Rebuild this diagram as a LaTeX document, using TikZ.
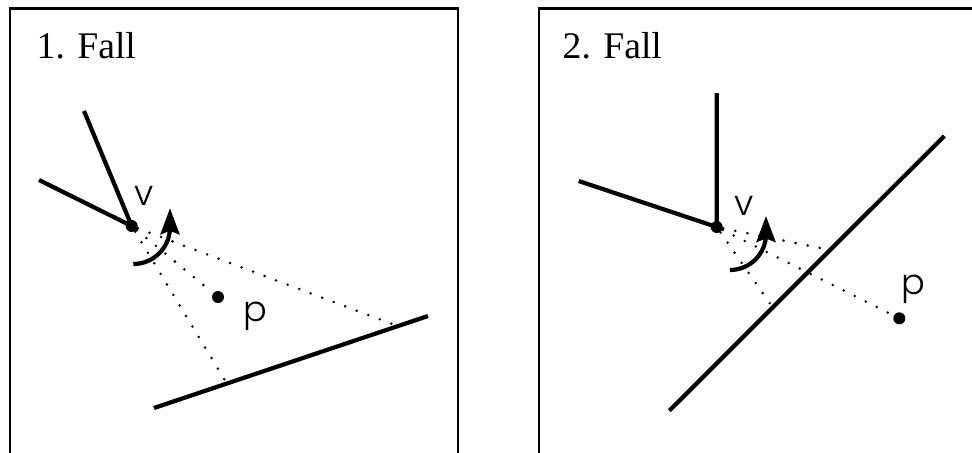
\documentclass[tikz,border=0pt]{standalone}
\usepackage{fontspec}
\setmainfont{Liberation Serif}
\newfontfamily\geofont{Poppins Light}
\usetikzlibrary{arrows.meta,positioning}

\begin{document}
\begin{tikzpicture}[
  frame/.style={line width=0.85pt},
  seg/.style={line width=1.2pt},
  sight/.style={line width=0.8pt,line cap=round,dash pattern=on 0pt off 3.5pt},
  turn/.style={line width=1.2pt,-{Stealth[length=0.26cm,width=0.19cm,inset=0.035cm]}},
  pt/.style={circle,fill,inner sep=0pt,minimum size=0.12cm},
  lbl/.style={font=\geofont\fontsize{10}{12}\selectfont,inner sep=0pt,anchor=base west},
  title/.style={font=\fontsize{10.7}{12}\selectfont,inner sep=0pt,anchor=base west}]
  \useasboundingbox (0,0) rectangle (9.72,4.52);
  % Frames
  \draw[frame] (0.10,-0.1) -- (0.10,4.44) -- (4.58,4.44) -- (4.58,-0.1);
  \draw[frame] (5.39,-0.1) -- (5.39,4.44) -- (9.9,4.44);
  \node[title] (fall1) at (0.36,3.94) {1. Fall};
  \node[title] (fall2) at (5.62,3.94) {2. Fall};

  % 1. Fall
  \node[pt] (v1) at (1.317,2.26) {};
  \node[pt] (p1) at (2.18,1.55) {};
  \coordinate (a1) at (0.39,2.72);
  \coordinate (b1) at (0.84,3.41);
  \coordinate (w1s) at (1.54,0.44);
  \coordinate (w1e) at (4.28,1.36);
  \draw[seg] (a1) -- (v1.center) -- (b1);
  \draw[seg] (w1s) -- coordinate[pos=0.266] (h1a) coordinate[pos=0.89] (h1b) (w1e);
  \draw[sight] (v1) -- (h1a);
  \draw[sight] (v1) -- (p1);
  \draw[sight] (v1) -- (h1b);
  \coordinate (t1) at (1.333,1.88);
  \draw[turn] (t1) arc[start angle=270,end angle=360,radius=0.367] -- ++(0,0.19);
  \node[lbl] (v1lbl) at (1.34,2.47) {v};
  \node[lbl] (p1lbl) at (2.43,1.31) {p};

  % 2. Fall
  \node[pt] (v2) at (7.167,2.25) {};
  \node[pt] (p2) at (8.993,1.337) {};
  \coordinate (a2) at (5.787,2.71);
  \coordinate (b2) at (7.167,3.59);
  \coordinate (w2s) at (6.693,0.413);
  \coordinate (w2e) at (9.443,3.16);
  \draw[seg] (a2) -- (v2.center) -- (b2);
  \draw[seg] (w2s) -- coordinate[pos=0.376] (h2a) coordinate[pos=0.585] (h2b) (w2e);
  \draw[sight] (v2) -- (h2a);
  \draw[sight] (v2) -- (p2);
  \draw[sight] (v2) -- (h2b);
  \coordinate (t2) at (7.30,1.82);
  \draw[turn] (t2) arc[start angle=270,end angle=360,radius=0.36] -- ++(0,0.18);
  \node[lbl] (v2lbl) at (7.34,2.37) {v};
  \node[lbl] (p2lbl) at (9.01,1.58) {p};
\end{tikzpicture}
\end{document}
